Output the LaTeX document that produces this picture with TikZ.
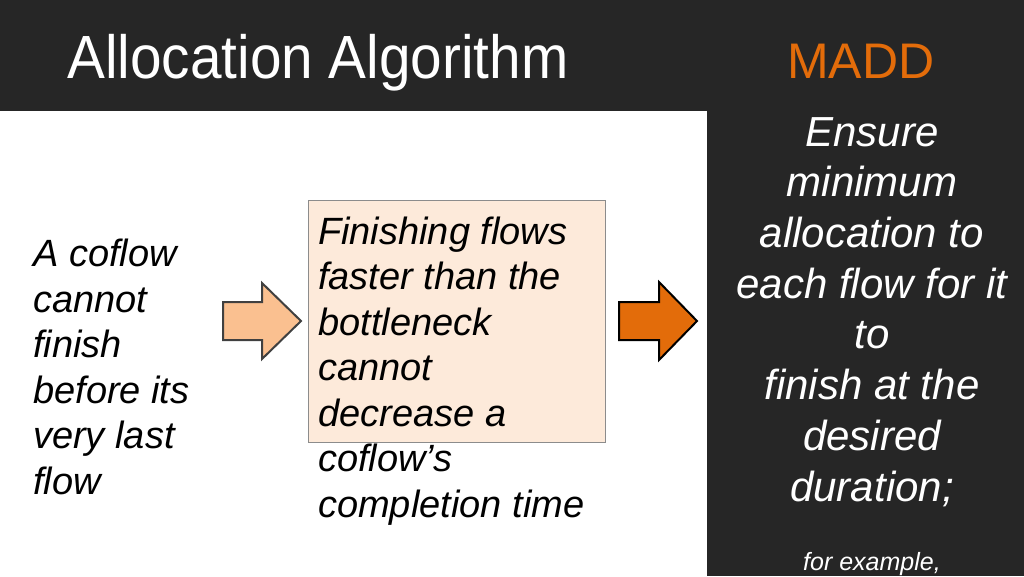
\documentclass[tikz,border=0pt]{standalone}
\usepackage{fontspec}
\setmainfont{Liberation Sans}
\newfontfamily\titlefont[FakeStretch=0.93]{Liberation Sans}
\definecolor{darkbg}{HTML}{262626}
\definecolor{maddorange}{HTML}{E36C0A}
\definecolor{peachlight}{HTML}{FAC090}
\definecolor{boxfill}{HTML}{FDEADA}
\definecolor{boxborder}{HTML}{8C8C8C}
\definecolor{arrowborder}{HTML}{404040}
\tikzset{
  bodytext/.style={inner sep=0pt, anchor=base west, align=left,
    font=\itshape\fontsize{38}{45.5}\selectfont, text=black},
  sidetext/.style={inner sep=0pt, anchor=base, align=center,
    font=\itshape\fontsize{42}{50.7}\selectfont, text=white},
  boxstyle/.style={draw=boxborder, line width=1pt, fill=boxfill, inner sep=0pt,
    anchor=north west, minimum width=297pt, minimum height=242pt},
  lightarrow/.style={draw=arrowborder, line width=2pt, fill=peachlight, line join=miter},
  darkarrow/.style={draw=black, line width=2pt, fill=maddorange, line join=miter}
}
\begin{document}
\begin{tikzpicture}[x=1pt,y=-1pt]
\useasboundingbox (0,0) rectangle (1024,576);
\fill[white] (0,0) rectangle (1024,576);
\fill[darkbg] (0,0) rectangle (1024,111);
\fill[darkbg] (707,111) rectangle (1024,576);
% title
\node (title) [inner sep=0pt, anchor=base west, text=white,
  font=\titlefont\fontsize{61}{73}\selectfont] at (67,78) {Allocation Algorithm};
\node (madd) [inner sep=0pt, anchor=base west, text=maddorange,
  font=\fontsize{50}{60}\selectfont] at (787,78) {MADD};
% left text (base anchor = last line)
\node (left) [bodytext] at (33,494) {A coflow\\cannot\\finish\\before its\\very last\\flow};
% arrow 1
\draw[lightarrow] (223,302) -- (262,302) -- (262,283) -- (301,321) -- (262,359) -- (262,340) -- (223,340) -- cycle;
% box
\node (box) [boxstyle] at (308,200) {};
\node (boxtext) [bodytext] at (318,517) {Finishing flows\\faster than the\\bottleneck\\cannot\\decrease a\\coflow’s\\completion time};
% arrow 2
\draw[darkarrow] (619,302) -- (659,302) -- (659,282) -- (697,321) -- (659,360) -- (659,340) -- (619,340) -- cycle;
% right panel
\node (right) [sidetext] at (872,501) {Ensure\\minimum\\allocation to\\each flow for it\\to\\finish at the\\desired\\duration;};
\node (example) [inner sep=0pt, anchor=base, text=white,
  font=\itshape\fontsize{25}{30}\selectfont] at (872,570) {for example,};
\end{tikzpicture}
\end{document}
